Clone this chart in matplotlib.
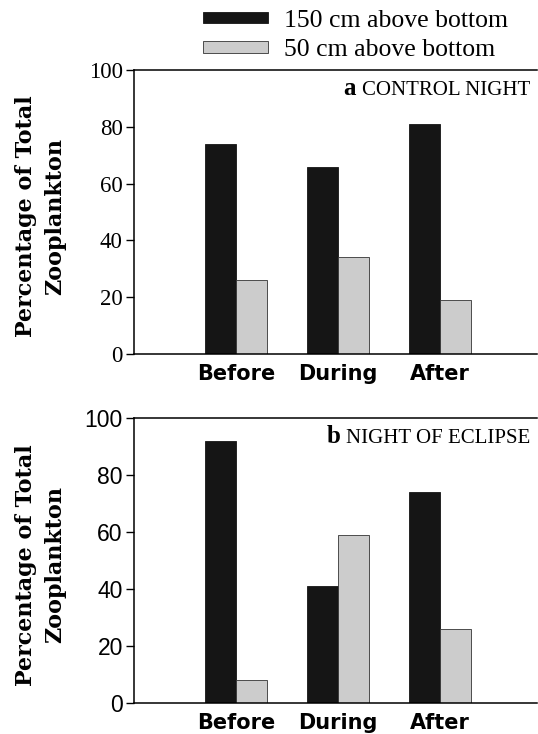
import matplotlib
matplotlib.use("Agg")
import numpy as np
import matplotlib.pyplot as plt
from matplotlib.patches import Patch
from matplotlib.offsetbox import TextArea, HPacker, AnchoredOffsetbox

periods = ["Before", "During", "After"]
series_names = ["150 cm above bottom", "50 cm above bottom"]
control_150 = [74, 66, 81]
control_50 = [26, 34, 19]
eclipse_150 = [92, 41, 74]
eclipse_50 = [8, 59, 26]
yticks = [0, 20, 40, 60, 80, 100]

dark = "#151515"
light = "#cccccc"
serif = "Liberation Serif"

fig = plt.figure(figsize=(5.38, 7.34), dpi=100)
ax_a = fig.add_axes([0.249, 0.5177, 0.749, 0.3869])
ax_b = fig.add_axes([0.249, 0.0422, 0.749, 0.3883])


def panel(ax, hi, lo, letter, title, tick_family):
    x = np.arange(1, len(periods) + 1)
    w = 0.3
    ax.bar(x - w / 2, hi, w, color=dark, edgecolor=dark, linewidth=0.6)
    ax.bar(x + w / 2, lo, w, color=light, edgecolor="#333333", linewidth=0.6)
    ax.set_xlim(0, 3.95)
    ax.set_ylim(0, 100)
    ax.set_yticks(yticks)
    ax.set_xticks(x)
    ax.set_xticklabels(periods)
    ax.tick_params(axis="x", length=0, pad=7, labelsize=15,
                   labelfontfamily="DejaVu Sans")
    ax.tick_params(axis="y", direction="out", length=6, width=1, pad=2,
                   labelsize=16.5, labelfontfamily=tick_family)
    for lab in ax.get_xticklabels():
        lab.set_fontweight("bold")
    ax.spines["right"].set_visible(False)
    for s in ("left", "bottom", "top"):
        ax.spines[s].set_linewidth(1.1)
    ax.set_ylabel("Percentage of Total\nZooplankton", family="DejaVu Serif",
                  fontweight="bold", fontsize=16, linespacing=1.4)
    ax.yaxis.set_label_coords(-0.168, 0.485)
    box = HPacker(children=[
        TextArea(letter, textprops=dict(family=serif, fontweight="bold", fontsize=18)),
        TextArea(title, textprops=dict(family=serif, fontsize=15)),
    ], align="baseline", pad=0, sep=4)
    anchored = AnchoredOffsetbox(loc="upper right", child=box, frameon=False,
                                 pad=0, borderpad=0.5, prop=dict(size=10))
    ax.add_artist(anchored)


panel(ax_a, control_150, control_50, "a", "CONTROL NIGHT", serif)
panel(ax_b, eclipse_150, eclipse_50, "b", "NIGHT OF ECLIPSE", "Liberation Sans")

handles = [Patch(facecolor=dark, edgecolor=dark, linewidth=0.6),
           Patch(facecolor=light, edgecolor="#333333", linewidth=0.6)]
fig.legend(handles, series_names, loc="upper left", bbox_to_anchor=(0.378, 0.987),
           frameon=False, prop=dict(family=serif, size=18.5), handlelength=2.5,
           handleheight=0.3, handletextpad=0.62, labelspacing=0.3, borderpad=0,
           borderaxespad=0)

fig.savefig("out.png", dpi=100)
